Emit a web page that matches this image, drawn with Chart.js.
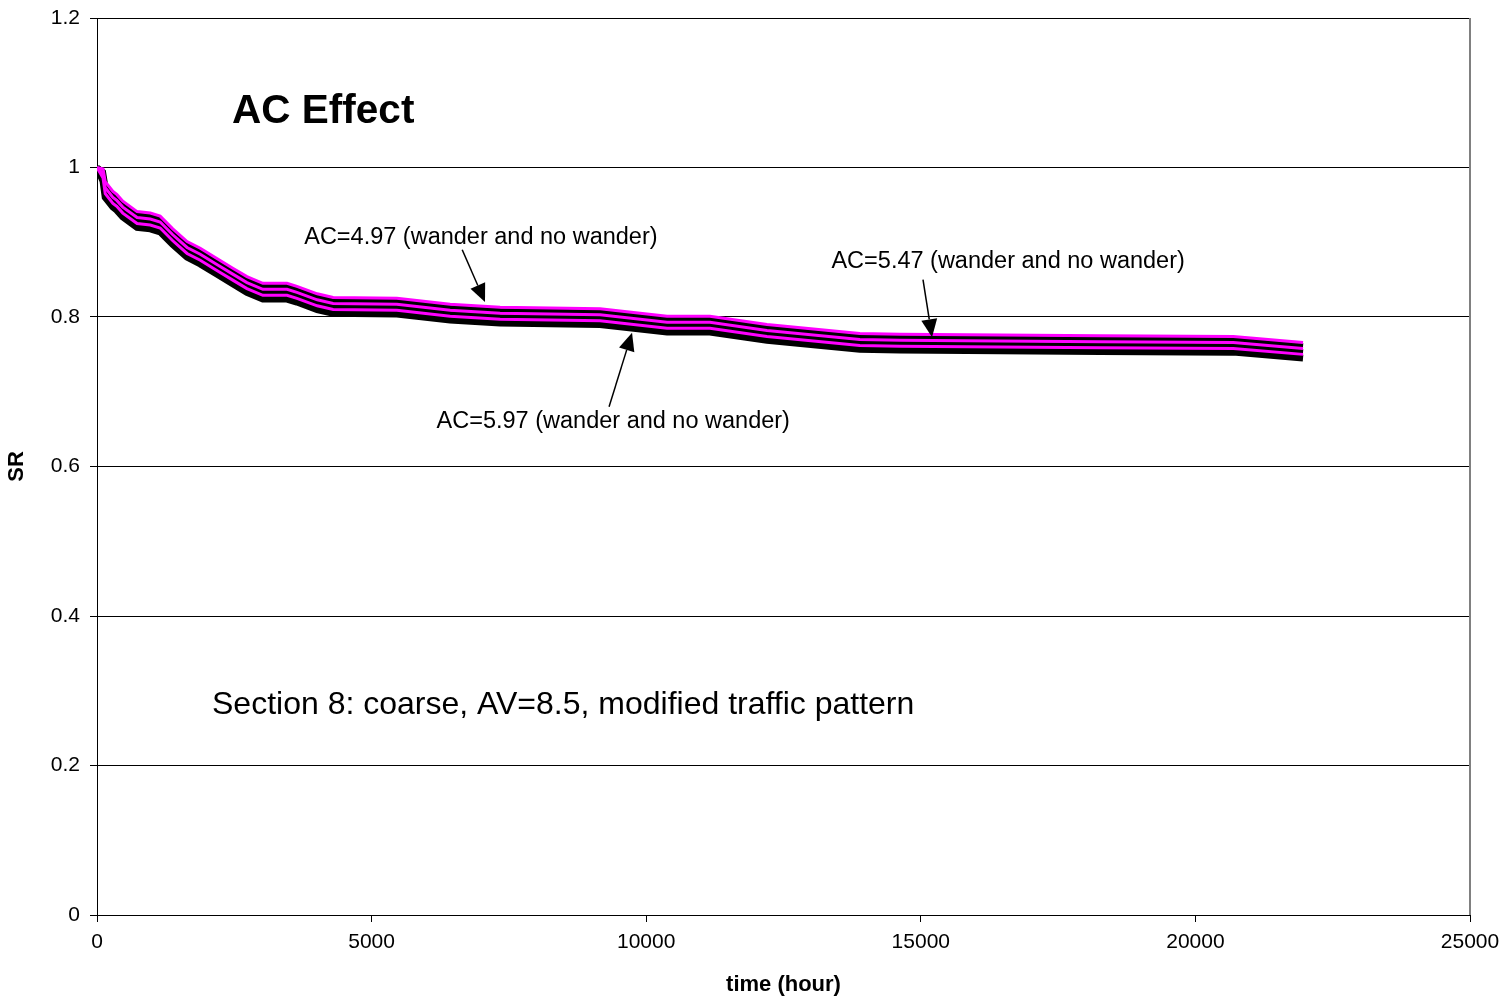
<!DOCTYPE html>
<html>
<head>
<meta charset="utf-8">
<script src="https://cdn.jsdelivr.net/npm/chart.js@4.4.1/dist/chart.umd.min.js"></script>
<style>
  html, body { margin: 0; padding: 0; background: #fff; }
  #wrap { width: 1508px; height: 1005px; position: relative; }
</style>
</head>
<body>
<div id="wrap"><canvas id="chart"></canvas></div>
<script>
// time (hour)
const times = [0, 110, 150, 290, 360, 470, 730, 970, 1150, 1380, 1640, 1880, 2190, 2480, 2730, 3020,
  3460, 3640, 4010, 4300, 5460, 6430, 7340, 9160, 10380, 11160, 12200, 13890, 14620, 18270, 20690, 21960];

// SR, AC=4.97
const sr497w = [1.000, 0.998, 0.981, 0.968, 0.964, 0.955, 0.941, 0.939, 0.935, 0.918, 0.901, 0.892, 0.878, 0.865, 0.854, 0.845,
  0.845, 0.841, 0.831, 0.826, 0.825, 0.817, 0.813, 0.811, 0.801, 0.801, 0.790, 0.778, 0.777, 0.775, 0.774, 0.766];
const sr497n = [1.000, 0.994, 0.976, 0.963, 0.959, 0.950, 0.936, 0.934, 0.930, 0.913, 0.896, 0.887, 0.873, 0.860, 0.849, 0.840,
  0.840, 0.836, 0.826, 0.821, 0.820, 0.812, 0.808, 0.806, 0.796, 0.796, 0.785, 0.773, 0.772, 0.770, 0.769, 0.761];
// SR, AC=5.47
const sr547w = [1.000, 0.992, 0.973, 0.960, 0.956, 0.947, 0.933, 0.931, 0.927, 0.910, 0.893, 0.884, 0.870, 0.857, 0.846, 0.837,
  0.837, 0.833, 0.823, 0.818, 0.817, 0.809, 0.805, 0.803, 0.793, 0.793, 0.782, 0.770, 0.769, 0.767, 0.766, 0.758];
const sr547n = [1.000, 0.988, 0.968, 0.955, 0.951, 0.942, 0.928, 0.926, 0.922, 0.905, 0.888, 0.879, 0.865, 0.852, 0.841, 0.832,
  0.832, 0.828, 0.818, 0.813, 0.812, 0.804, 0.800, 0.798, 0.788, 0.788, 0.777, 0.765, 0.764, 0.762, 0.761, 0.753];
// SR, AC=5.97
const sr597w = [1.000, 0.986, 0.965, 0.952, 0.948, 0.939, 0.925, 0.923, 0.919, 0.902, 0.885, 0.876, 0.862, 0.849, 0.838, 0.829,
  0.829, 0.825, 0.815, 0.810, 0.809, 0.801, 0.797, 0.795, 0.785, 0.785, 0.774, 0.762, 0.761, 0.759, 0.758, 0.750];
const sr597n = [1.000, 0.982, 0.960, 0.947, 0.943, 0.934, 0.920, 0.918, 0.914, 0.897, 0.880, 0.871, 0.857, 0.844, 0.833, 0.824,
  0.824, 0.820, 0.810, 0.805, 0.804, 0.796, 0.792, 0.790, 0.780, 0.780, 0.769, 0.757, 0.756, 0.754, 0.753, 0.745];

const xTicks = [0, 5000, 10000, 15000, 20000, 25000];
const yTicks = [0, 0.2, 0.4, 0.6, 0.8, 1, 1.2];

// labels with arrows: text centre, arrow tail, arrow tip (data units)
const notes = [
  { text: "AC=4.97 (wander and no wander)", x: 6990, y: 0.906, from: [6650, 0.890], to: [7065, 0.820] },
  { text: "AC=5.47 (wander and no wander)", x: 16590, y: 0.874, from: [15040, 0.850], to: [15205, 0.773] },
  { text: "AC=5.97 (wander and no wander)", x: 9400, y: 0.660, from: [9324, 0.680], to: [9742, 0.779] },
];

const FONT = "'Liberation Sans', Arial, sans-serif";

function pts(ys) {
  return times.map((t, i) => ({ x: t, y: ys[i] }));
}
function line(ys, color, w, ord) {
  return {
    data: pts(ys), borderColor: color, borderWidth: w, pointRadius: 0,
    tension: 0, fill: false, borderCapStyle: "butt", order: ord
  };
}

const notesPlugin = {
  id: "notes",
  afterDatasetsDraw(chart) {
    const ctx = chart.ctx, xs = chart.scales.x, ys = chart.scales.y;
    const area = chart.chartArea;
    ctx.save();
    // right border of plot
    ctx.strokeStyle = "#808080";
    ctx.lineWidth = 2;
    ctx.beginPath();
    ctx.moveTo(area.right, area.top);
    ctx.lineTo(area.right, area.bottom);
    ctx.stroke();

    ctx.fillStyle = "#000";
    ctx.textBaseline = "middle";
    ctx.font = "bold 40.5px " + FONT;
    ctx.textAlign = "left";
    ctx.fillText("AC Effect", xs.getPixelForValue(2460), ys.getPixelForValue(1.074));

    ctx.font = "32px " + FONT;
    ctx.fillText("Section 8: coarse, AV=8.5, modified traffic pattern", xs.getPixelForValue(2094), ys.getPixelForValue(0.281));

    ctx.font = "23.5px " + FONT;
    ctx.textAlign = "center";
    notes.forEach(n => {
      ctx.fillText(n.text, xs.getPixelForValue(n.x), ys.getPixelForValue(n.y));
      const x0 = xs.getPixelForValue(n.from[0]), y0 = ys.getPixelForValue(n.from[1]);
      const x1 = xs.getPixelForValue(n.to[0]), y1 = ys.getPixelForValue(n.to[1]);
      const a = Math.atan2(y1 - y0, x1 - x0);
      const hl = 18, hw = 8;
      const bx = x1 - hl * Math.cos(a), by = y1 - hl * Math.sin(a);
      ctx.strokeStyle = "#000";
      ctx.lineWidth = 1.5;
      ctx.beginPath();
      ctx.moveTo(x0, y0);
      ctx.lineTo(bx, by);
      ctx.stroke();
      ctx.beginPath();
      ctx.moveTo(x1, y1);
      ctx.lineTo(bx + hw * Math.sin(a), by - hw * Math.cos(a));
      ctx.lineTo(bx - hw * Math.sin(a), by + hw * Math.cos(a));
      ctx.closePath();
      ctx.fill();
    });
    ctx.restore();
  }
};

new Chart(document.getElementById("chart"), {
  type: "line",
  data: {
    datasets: [
      line(sr497w, "#ff00ff", 3, 0),
      line(sr547w, "#ff00ff", 3, 0),
      line(sr597w, "#ff00ff", 3, 0),
      line(sr497n, "#000000", 6, 1),
      line(sr547n, "#000000", 6, 1),
      line(sr597n, "#000000", 7, 1),
    ]
  },
  options: {
    responsive: true,
    maintainAspectRatio: false,
    animation: false,
    layout: { padding: { top: 18, right: 38, left: 0, bottom: 0 } },
    plugins: { legend: { display: false }, tooltip: { enabled: false } },
    scales: {
      x: {
        type: "linear", min: 0, max: 25000,
        afterBuildTicks(s) { s.ticks = xTicks.map(v => ({ value: v })); },
        afterFit(s) { s.height = 90; },
        grid: { display: true, drawOnChartArea: false, tickLength: 7, color: "#000" },
        border: { color: "#000", width: 1 },
        ticks: { color: "#000", padding: 8, font: { family: FONT, size: 21 }, maxRotation: 0,
          callback: v => String(v) },
        title: { display: true, text: "time (hour)", color: "#000", padding: { top: 0, bottom: 7 },
          font: { family: FONT, size: 22, weight: "bold" } }
      },
      y: {
        min: 0, max: 1.2,
        afterBuildTicks(s) { s.ticks = yTicks.map(v => ({ value: v })); },
        afterFit(s) { s.width = 97; s.paddingTop = 0; s.paddingBottom = 0; },
        grid: { color: "#000", lineWidth: 1, tickLength: 7 },
        border: { color: "#000", width: 1 },
        ticks: { color: "#000", padding: 10, font: { family: FONT, size: 21 },
          callback: v => String(v) },
        title: { display: true, text: "SR", color: "#000", padding: { top: 4, bottom: 0 },
          font: { family: FONT, size: 22, weight: "bold" } }
      }
    }
  },
  plugins: [notesPlugin]
});
</script>
</body>
</html>
